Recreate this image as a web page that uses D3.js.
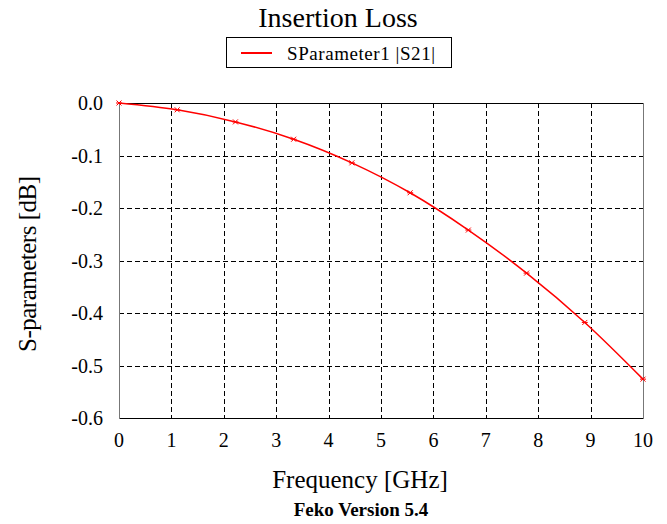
<!DOCTYPE html>
<html>
<head>
<meta charset="utf-8">
<script src="https://cdn.jsdelivr.net/npm/d3@7/dist/d3.min.js"></script>
<style>
  body { margin: 0; background: #fff; }
  text { font-family: "Liberation Serif", "Times New Roman", serif; }
</style>
</head>
<body>
<div id="chart"></div>
<script>
// sample points of |S21| (GHz, dB)
var freq = [0, 1.111, 2.222, 3.333, 4.444, 5.556, 6.667, 7.778, 8.889, 10];
var s21 = [0, -0.013, -0.036, -0.069, -0.114, -0.171, -0.242, -0.324, -0.418, -0.526];
var xTicks = [0, 1, 2, 3, 4, 5, 6, 7, 8, 9, 10];
var yTicks = [0, -0.1, -0.2, -0.3, -0.4, -0.5, -0.6];
var seriesName = "SParameter1 |S21|";

var width = 667, height = 524;
var plotLeft = 119, plotRight = 643, plotTop = 103, plotBottom = 418;

var svg = d3.select("#chart").append("svg")
    .attr("width", width)
    .attr("height", height);

var x = d3.scaleLinear().domain([0, 10]).range([plotLeft, plotRight]);
var y = d3.scaleLinear().domain([-0.6, 0]).range([plotBottom, plotTop]);

// grid
svg.selectAll(".vgrid")
    .data(xTicks.slice(1, -1))
  .enter().append("line")
    .attr("x1", function(d) { return Math.round(x(d)) + 0.5; })
    .attr("x2", function(d) { return Math.round(x(d)) + 0.5; })
    .attr("y1", plotTop).attr("y2", plotBottom)
    .style("stroke", "#000")
    .style("stroke-dasharray", "5,3");

svg.selectAll(".hgrid")
    .data(yTicks.slice(1, -1))
  .enter().append("line")
    .attr("y1", function(d) { return Math.round(y(d)) + 0.5; })
    .attr("y2", function(d) { return Math.round(y(d)) + 0.5; })
    .attr("x1", plotLeft).attr("x2", plotRight)
    .style("stroke", "#000")
    .style("stroke-dasharray", "5,3");

// frame
svg.append("line").attr("x1", plotLeft).attr("x2", plotRight).attr("y1", plotTop + 0.5).attr("y2", plotTop + 0.5).style("stroke", "#000");
svg.append("line").attr("x1", plotLeft).attr("x2", plotRight).attr("y1", plotBottom + 0.5).attr("y2", plotBottom + 0.5).style("stroke", "#000");
svg.append("line").attr("x1", plotLeft + 0.5).attr("x2", plotLeft + 0.5).attr("y1", plotTop).attr("y2", plotBottom + 1).style("stroke", "#777");
svg.append("line").attr("x1", plotRight + 0.5).attr("x2", plotRight + 0.5).attr("y1", plotTop).attr("y2", plotBottom + 1).style("stroke", "#777");

// tick labels
svg.selectAll(".xlab")
    .data(xTicks)
  .enter().append("text")
    .attr("x", function(d) { return x(d); })
    .attr("y", 447)
    .attr("text-anchor", "middle")
    .style("font-size", "20px")
    .text(function(d) { return d; });

svg.selectAll(".ylab")
    .data(yTicks)
  .enter().append("text")
    .attr("x", 103)
    .attr("y", function(d) { return y(d) + 7; })
    .attr("text-anchor", "end")
    .style("font-size", "20px")
    .text(function(d) { return d.toFixed(1); });

// series
var pts = freq.map(function(f, i) { return [f, s21[i]]; });
var line = d3.line()
    .x(function(d) { return x(d[0]); })
    .y(function(d) { return y(d[1]); })
    .curve(d3.curveCatmullRom);

svg.append("path")
    .datum(pts)
    .attr("d", line)
    .style("fill", "none")
    .style("stroke", "#f00")
    .style("stroke-width", 1.5);

svg.selectAll(".mark")
    .data(pts)
  .enter().append("path")
    .attr("transform", function(d) { return "translate(" + x(d[0]) + "," + y(d[1]) + ")"; })
    .attr("d", "M-2.5,-2.5L2.5,2.5M-2.5,2.5L2.5,-2.5M-3,0L3,0")
    .style("stroke", "#f00")
    .style("stroke-width", 1);

// title and legend
svg.append("text")
    .attr("x", 338).attr("y", 27)
    .attr("text-anchor", "middle")
    .style("font-size", "28px")
    .text("Insertion Loss");

svg.append("rect")
    .attr("x", 226.5).attr("y", 37.5)
    .attr("width", 225).attr("height", 30)
    .style("fill", "none")
    .style("stroke", "#000");

svg.append("line")
    .attr("x1", 241).attr("x2", 272).attr("y1", 53).attr("y2", 53)
    .style("stroke", "#f00").style("stroke-width", 2);

svg.append("text")
    .attr("x", 287).attr("y", 60)
    .style("font-size", "19px")
    .attr("textLength", 148)
    .text(seriesName);

// axis titles
svg.append("text")
    .attr("x", 360).attr("y", 488)
    .attr("text-anchor", "middle")
    .style("font-size", "25px")
    .text("Frequency [GHz]");

svg.append("text")
    .attr("transform", "translate(36,264) rotate(-90)")
    .attr("text-anchor", "middle")
    .style("font-size", "25px")
    .attr("textLength", 176)
    .text("S-parameters [dB]");

svg.append("text")
    .attr("x", 361).attr("y", 516)
    .attr("text-anchor", "middle")
    .style("font-size", "19px")
    .style("font-weight", "bold")
    .text("Feko Version 5.4");
</script>
</body>
</html>
